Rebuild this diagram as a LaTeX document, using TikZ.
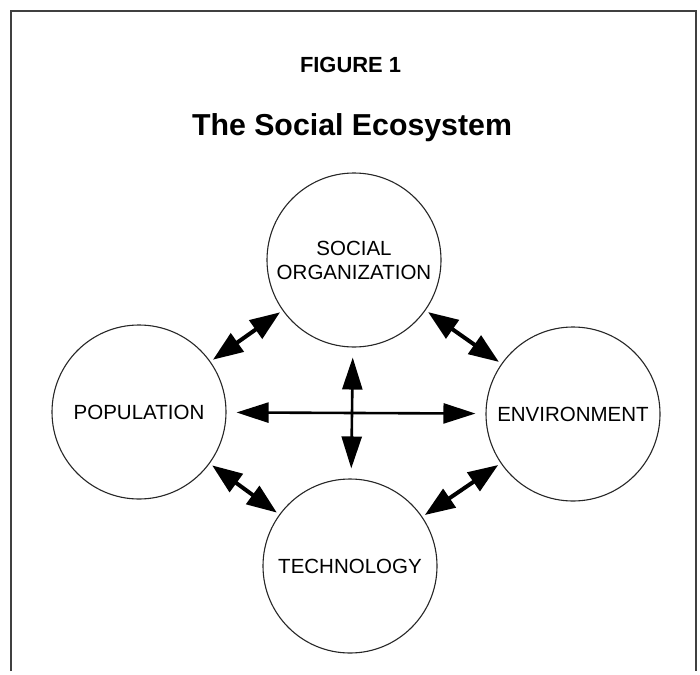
\documentclass[tikz,border=0pt]{standalone}
\usepackage{fontspec}
\newfontfamily\arialfont{Liberation Sans}
\usetikzlibrary{arrows.meta,automata}

\begin{document}
\begin{tikzpicture}[x=1pt,y=-1pt,>={Triangle[length=30pt 0,width=22pt 0]},
                    shorten >=3pt,shorten <=3pt,semithick]
  \tikzstyle{every state}=[fill=white,draw=black!85,text=black,line width=1.1pt,
                           minimum size=174pt,inner sep=0pt,align=center,
                           font=\arialfont\fontsize{20.5}{24}\selectfont]
  \tikzstyle{link}=[<->,line width=4pt]
  \tikzstyle{cross}=[<->,line width=2.6pt,shorten >=10pt,shorten <=10pt,
                     >={Triangle[length=32pt 0,width=20pt 0]}]

  \useasboundingbox (0,0) rectangle (700,674);
  \draw[line width=1.4pt,black!75] (11,674) -- (11,11) -- (696,11) -- (696,674);

  \node[anchor=base,font=\arialfont\bfseries\fontsize{21.9}{26}\selectfont] (fig) at (350.5,73) {FIGURE 1};
  \node[anchor=base,font=\arialfont\bfseries\fontsize{30.3}{36}\selectfont] (title) at (352,135) {The Social Ecosystem};

  \node[state] (S) at (354,260) {SOCIAL\\ORGANIZATION};
  \node[state] (P) at (139,412) {POPULATION};
  \node[state] (E) at (573,414) {ENVIRONMENT};
  \node[state] (T) at (350,566) {TECHNOLOGY};

  \path   (P)   edge [link]    (S)
                edge [link]    (T)
                edge [cross]   (E)
          (S)   edge [link]    (E)
                edge [cross]   (T)
          (T)   edge [link]    (E);
\end{tikzpicture}
\end{document}
